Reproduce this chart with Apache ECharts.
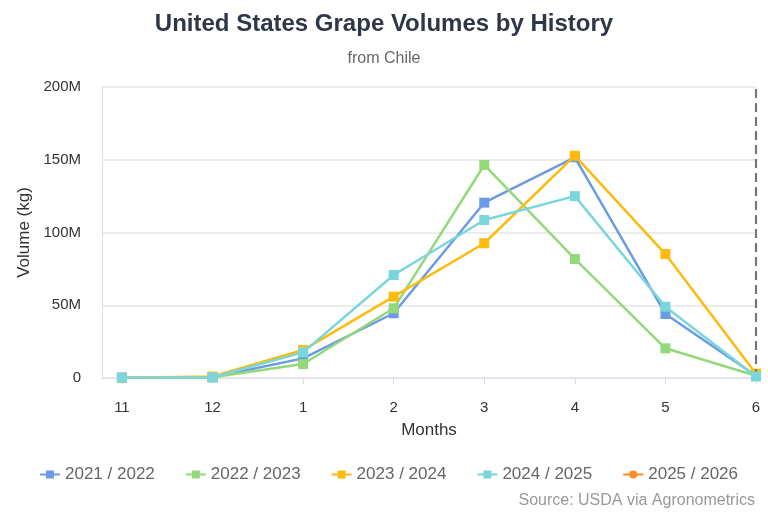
<!DOCTYPE html>
<html>
<head>
<meta charset="utf-8">
<script src="https://cdn.jsdelivr.net/npm/echarts@6/dist/echarts.min.js"></script>
<style>html,body{margin:0;padding:0;background:#fff}#c{width:768px;height:512px}</style>
</head>
<body>
<div id="c"></div>
<script>
var months = ['11', '12', '1', '2', '3', '4', '5', '6'];
var seriesNames = ['2021 / 2022', '2022 / 2023', '2023 / 2024', '2024 / 2025', '2025 / 2026'];
var s2021 = [0.2, 0.5, 13.5, 44.5, 120.5, 151.7, 44, 1.5];
var s2022 = [0.2, 0.5, 9.6, 47.9, 146.4, 81.8, 20.4, 1.5];
var s2023 = [0.2, 1.0, 19.2, 55.9, 92.6, 152.8, 85.2, 3.0];
var s2024 = [0.2, 0.5, 17.6, 70.8, 108.6, 125, 49, 1.0];
var s2025 = [];
var colors = ['#6c9be6', '#93d97b', '#fdbb0e', '#79d6dc', '#fd8c22'];
var tickValues = [0, 50, 100, 150, 200];

function toPts(arr) {
  return arr.map(function (v, i) { return [i, v * 1e6]; });
}
var allData = [s2021, s2022, s2023, s2024, s2025];
var idx = months.map(function (m, i) { return i; });

var chart = echarts.init(document.getElementById('c'));
var font = 'Liberation Sans, Arial, sans-serif';
var series = allData.map(function (d, k) {
  var s = {
    name: seriesNames[k],
    type: 'line',
    data: toPts(d),
    symbol: 'rect',
    symbolSize: 10,
    lineStyle: { width: 2.5, color: colors[k] },
    itemStyle: { color: colors[k] },
    z: 2 + k
  };
  if (k === 4) {
    s.symbol = 'circle';
    s.markLine = {
      silent: true,
      symbol: 'none',
      label: { show: false },
      lineStyle: { color: '#777', type: [9, 5], width: 2.2 },
      data: [{ xAxis: months.length - 1 }]
    };
  }
  return s;
});

chart.setOption({
  color: colors,
  animation: false,
  textStyle: { fontFamily: font },
  title: [{
    text: 'United States Grape Volumes by History',
    subtext: 'from Chile',
    left: 'center',
    top: 7,
    itemGap: 15,
    textStyle: { fontSize: 24, fontWeight: 'bold', color: '#2d3748', fontFamily: font },
    subtextStyle: { fontSize: 16, color: '#666', fontFamily: font }
  }, {
    text: 'Source: USDA via Agronometrics',
    right: 8,
    top: 488,
    textStyle: { fontSize: 16, fontWeight: 'normal', color: '#999', fontFamily: font }
  }],
  legend: {
    data: seriesNames,
    top: 461,
    left: 34,
    itemGap: 30,
    itemWidth: 20,
    itemHeight: 10,
    textStyle: { fontSize: 17, color: '#666', fontFamily: font }
  },
  grid: { left: 102, right: 12, top: 87, bottom: 134, containLabel: false },
  xAxis: {
    type: 'value',
    min: -0.22,
    max: months.length - 1,
    name: 'Months',
    nameLocation: 'middle',
    nameGap: 44,
    nameTextStyle: { fontSize: 17, color: '#333' },
    axisLine: { show: true, onZero: false, lineStyle: { color: '#d8deef', width: 1 } },
    axisTick: { show: true, customValues: idx, length: 6, lineStyle: { color: '#d8deef' } },
    axisLabel: {
      customValues: idx,
      formatter: function (v) {
        if (Math.abs(v - Math.round(v)) > 0.01) return '';
        return months[Math.round(v)];
      },
      fontSize: 15, color: '#333', margin: 22
    },
    splitLine: { show: false }
  },
  yAxis: {
    type: 'value',
    min: 0,
    max: 200e6,
    interval: 50e6,
    name: 'Volume (kg)',
    nameLocation: 'middle',
    nameGap: 61,
    nameTextStyle: { fontSize: 17, color: '#333' },
    axisLine: { show: true, onZero: false, lineStyle: { color: '#d8deef', width: 1 } },
    axisTick: { show: false },
    axisLabel: {
      fontSize: 15, color: '#333', margin: 21,
      formatter: function (v) { var m = v / 1e6; return tickValues.indexOf(m) >= 0 ? (m === 0 ? '0' : m + 'M') : ''; }
    },
    splitLine: { lineStyle: { color: '#e6e6e6', width: 1.5 } }
  },
  series: series
});
</script>
</body>
</html>
